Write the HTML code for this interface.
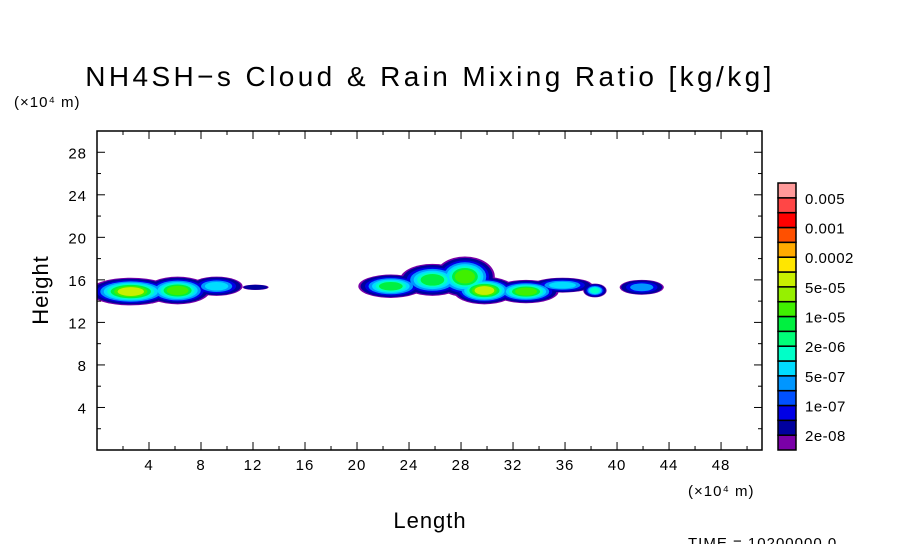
<!DOCTYPE html>
<html><head><meta charset="utf-8"><style>
body{margin:0;background:#fff;}
svg text{font-family:"Liberation Sans",sans-serif;fill:#000;}
</style></head><body>
<svg id="c" width="904" height="544" viewBox="0 0 904 544">
<defs><clipPath id="pc"><rect x="97" y="131" width="665" height="319"/></clipPath></defs>
<text x="430" y="86" font-size="28" letter-spacing="3.4" text-anchor="middle">NH4SH−s Cloud &amp; Rain Mixing Ratio [kg/kg]</text>
<text x="14" y="107" font-size="15" letter-spacing="1">(×10⁴ m)</text>
<text x="688" y="496" font-size="15" letter-spacing="1">(×10⁴ m)</text>
<text x="430" y="528" font-size="22" letter-spacing="1" text-anchor="middle">Length</text>
<text x="48" y="290" font-size="22" letter-spacing="1" text-anchor="middle" transform="rotate(-90 48 290)">Height</text>
<text x="688" y="548" font-size="15" letter-spacing="1">TIME = 10200000.0</text>
<g id="plot" clip-path="url(#pc)"></g>
<g id="axes"></g>
<g id="cbar"></g>
</svg>
<script>
const xTicks=[4,8,12,16,20,24,28,32,36,40,44,48];
const yTicks=[4,8,12,16,20,24,28];
const levelLabels=["2e-08","1e-07","5e-07","2e-06","1e-05","5e-05","0.0002","0.001","0.005"];
const levelColors=["#7a00a8","#00009e","#0000e6","#0050ff","#0096ff","#00dcff","#00ffc8","#00ff78","#00f040","#40f000","#96f000","#c8f000","#ffe600","#ffaa00","#ff5000","#ff0000","#ff4646","#ff9a9a"];
const ringLevels=[0,1,2,4,5,6,8,9,11];
const blobX=[2.6,6.2,9.2,12.2,22.6,25.8,28.3,29.8,33.0,35.8,38.3,41.9];
const blobY=[14.9,15.0,15.4,15.3,15.4,16.0,16.3,15.0,14.9,15.5,15.0,15.3];
const blobW=[6.4,5.0,4.0,2.0,5.0,5.0,4.6,4.8,5.0,4.6,1.8,3.4];
const blobH=[2.6,2.6,1.8,0.5,2.2,3.0,3.8,2.6,2.2,1.4,1.3,1.4];
const blobLevel=[8,7,4,1,6,6,7,8,7,4,5,3];
const L=97,R=762,T=131,B=450,XMAX=51.15,YMAX=30;
const sx=v=>L+v/XMAX*(R-L), sy=v=>B-v/YMAX*(B-T);
const NS="http://www.w3.org/2000/svg";
function mk(t,a,p){const e=document.createElementNS(NS,t);for(const k in a)e.setAttribute(k,a[k]);p.appendChild(e);return e;}
const plot=document.getElementById('plot');
for(let k=0;k<ringLevels.length;k++){
  blobX.forEach((x,i)=>{
    const n=blobLevel[i]+1;
    if(k>=n)return;
    const f=k==0?1:(k==1?0.93:0.9-0.75*(k-1)/n);
    const e=mk('ellipse',{cx:sx(x),cy:sy(blobY[i]),rx:(sx(blobW[i]/2)-sx(0))*f,ry:(sy(0)-sy(blobH[i]/2))*f,fill:levelColors[ringLevels[k]]},plot);
    
    
  });
}
const ax=document.getElementById('axes');
const fr=mk('rect',{x:L,y:T,width:R-L,height:B-T,fill:'none',stroke:'#000','stroke-width':1.5},ax);


for(let v=2;v<XMAX;v+=2){const big=v%4==0;mk('line',{x1:sx(v),x2:sx(v),y1:B,y2:B-(big?8:4),stroke:'#000'},ax);mk('line',{x1:sx(v),x2:sx(v),y1:T,y2:T+(big?8:4),stroke:'#000'},ax);}
for(let v=2;v<YMAX;v+=2){const big=v%4==0;mk('line',{x1:L,x2:L+(big?8:4),y1:sy(v),y2:sy(v),stroke:'#000'},ax);mk('line',{x1:R,x2:R-(big?8:4),y1:sy(v),y2:sy(v),stroke:'#000'},ax);}
xTicks.forEach(v=>{const t=mk('text',{x:sx(v),y:B+20,'font-size':15,'text-anchor':'middle','letter-spacing':1},ax);t.textContent=v;

});
yTicks.forEach(v=>{const t=mk('text',{x:L-10,y:sy(v)+6,'font-size':15,'text-anchor':'end','letter-spacing':1},ax);t.textContent=v;

});
const cb=document.getElementById('cbar');
const cbT=183,cbB=450,n=levelColors.length,h=(cbB-cbT)/n;
levelColors.forEach((c,i)=>{const r=mk('rect',{x:778,y:cbB-(i+1)*h,width:18,height:h,fill:c,stroke:'#000','stroke-width':1.5},cb);

});
levelLabels.forEach((s,i)=>{const t=mk('text',{x:805,y:cbB-(2*i+1)*h+6,'font-size':15,'letter-spacing':0.5},cb);t.textContent=s;

});
</script>
</body></html>
